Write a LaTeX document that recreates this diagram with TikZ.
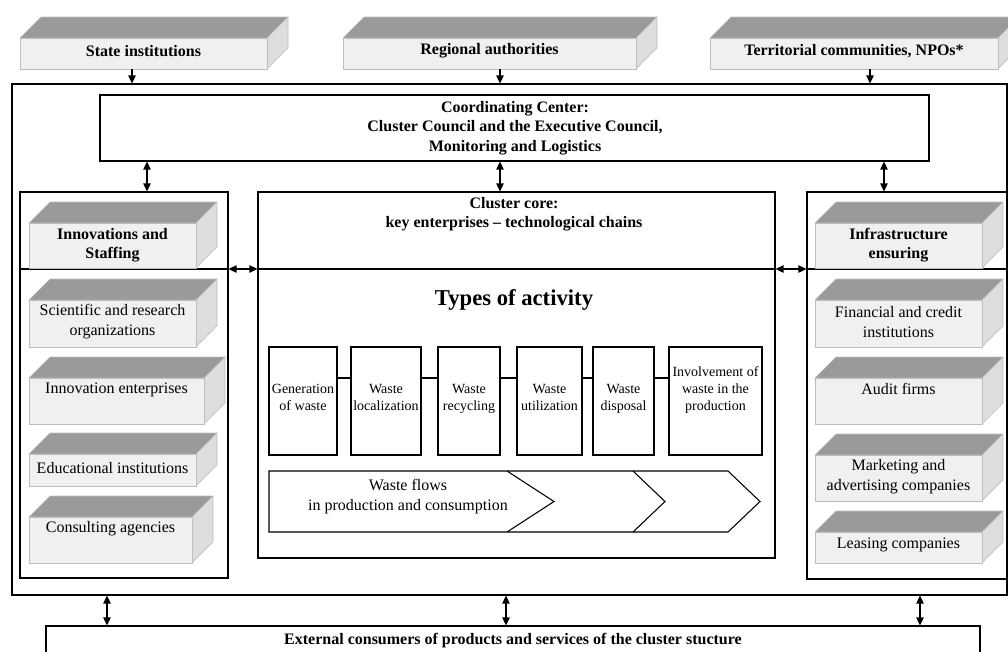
\documentclass[tikz,border=0pt]{standalone}
\usepackage{fontspec}
\setmainfont{Liberation Serif}
\usetikzlibrary{arrows.meta,calc,fit}
\definecolor{topc}{HTML}{9A9A9A}
\definecolor{frontc}{HTML}{F0F0F0}
\definecolor{sidec}{HTML}{DDDDDD}
\definecolor{edgec}{HTML}{BDBDBD}
\tikzset{
  rectbox/.style={draw=black, line width=0.8pt, inner sep=0pt},
  topface/.style={fill=topc, draw=edgec, line width=0.4pt},
  sideface/.style={fill=sidec, draw=edgec, line width=0.4pt},
  frontface/.style={fill=frontc, draw=edgec, line width=0.5pt, inner sep=0pt},
  regtext/.style={font=\fontsize{12}{15}\selectfont, align=center, inner sep=0pt},
  boldtext/.style={font=\fontsize{12}{14.6}\selectfont\bfseries, align=center, inner sep=0pt},
  acttext/.style={font=\fontsize{10.5}{12.75}\selectfont, align=center, inner sep=0pt},
  bigtext/.style={font=\fontsize{17}{20}\selectfont\bfseries, align=center, inner sep=0pt},
  arr/.style={-{Triangle[length=6pt,width=5.5pt]}, line width=1pt},
  darr/.style={{Triangle[length=6pt,width=5.5pt]}-{Triangle[length=6pt,width=5.5pt]}, line width=1pt},
  thinline/.style={line width=0.8pt},
}
% #1 name, #2 x1, #3 y1, #4 x2, #5 y2, #6 text y, #7 text style, #8 text
\newcommand{\tdbox}[8]{%
  \path[topface] (#2,#3) -- (#2+21,#3-21) -- (#4+21,#3-21) -- (#4,#3) -- cycle;
  \path[sideface] (#4,#3) -- (#4+21,#3-21) -- (#4+21,#5-21) -- (#4,#5) -- cycle;
  \node[frontface, fit={(#2,#3) (#4,#5)}] (#1) {};
  \node[#7] (#1-t) at ({(#2+#4)/2},#6) {#8};
}
\begin{document}
\begin{tikzpicture}[x=0.75pt,y=-0.75pt]
\useasboundingbox (0,0) rectangle (1008,651);
\clip (0,0) rectangle (1008,651);

% top 3D boxes
\tdbox{state}{20}{38}{267}{69}{51}{boldtext}{State institutions}
\tdbox{region}{343}{38}{636}{69}{51}{boldtext}{Regional authorities}
\tdbox{terr}{710}{38}{998}{69}{51}{boldtext}{Territorial communities, NPOs*}

% outer frame
\node[rectbox, fit={(12,84) (1007,595)}] (outer) {};

% coordinating center
\node[rectbox, fit={(100,95) (929,161)}] (cc) {};
\node[boldtext] (cct) at (515,128) {Coordinating Center:\\Cluster Council and the Executive Council,\\Monitoring and Logistics};

% columns
\node[rectbox, fit={(20,192) (228,578)}] (lcol) {};
\node[rectbox, fit={(258,192) (775,558)}] (core) {};
\node[rectbox, fit={(807,192) (1007,579)}] (rcol) {};

% horizontal divider line
\draw[thinline] (lcol.west |- 0,269) -- (lcol.east |- 0,269);
\draw[thinline] (core.west |- 0,269) -- (core.east |- 0,269);
\draw[thinline] (rcol.west |- 0,269) -- (rcol.east |- 0,269);

% arrows from top boxes
\draw[arr] (132,0 |- state.south) -- (132,0 |- outer.north);
\draw[arr] (500,0 |- region.south) -- (500,0 |- outer.north);
\draw[arr] (870,0 |- terr.south) -- (870,0 |- outer.north);

% arrows CC to columns
\draw[darr] (147,0 |- cc.south) -- (147,0 |- lcol.north);
\draw[darr] (500,0 |- cc.south) -- (500,0 |- core.north);
\draw[darr] (884,0 |- cc.south) -- (884,0 |- rcol.north);

% horizontal arrows between columns
\draw[darr] (lcol.east |- 0,269) -- (core.west |- 0,269);
\draw[darr] (core.east |- 0,269) -- (rcol.west |- 0,269);

% left column boxes
\tdbox{innov}{29}{223}{196}{268}{245}{boldtext}{Innovations and\\Staffing}
\tdbox{sci}{29}{300}{196}{347}{322}{regtext}{Scientific and research\\organizations}
\tdbox{inent}{29}{378}{204}{424}{390}{regtext}{Innovation enterprises}
\tdbox{edu}{29}{454}{196}{486}{468}{regtext}{Educational institutions}
\tdbox{cons}{29}{517}{192}{563}{529}{regtext}{Consulting agencies}

% right column boxes
\tdbox{infra}{815}{223}{982}{268}{245}{boldtext}{Infrastructure\\ensuring}
\tdbox{fin}{815}{300}{982}{347}{322}{regtext}{Financial and credit\\institutions}
\tdbox{audit}{815}{378}{982}{424}{389}{regtext}{Audit firms}
\tdbox{mark}{815}{455}{982}{501}{477}{regtext}{Marketing and\\advertising companies}
\tdbox{leas}{815}{532}{982}{563}{545}{regtext}{Leasing companies}

% core texts
\node[boldtext] (coret) at (514,214) {Cluster core:\\key enterprises -- technological chains};
\node[bigtext] (types) at (514,300) {Types of activity};

% activity boxes
\node[rectbox, fit={(269,347) (337,455)}] (a1) {};
\node[rectbox, fit={(351,347) (421,455)}] (a2) {};
\node[rectbox, fit={(438,347) (500,455)}] (a3) {};
\node[rectbox, fit={(517,347) (582,455)}] (a4) {};
\node[rectbox, fit={(593,347) (654,455)}] (a5) {};
\node[rectbox, fit={(669,347) (762,455)}] (a6) {};
\node[acttext] (a1t) at (303,399.5) {Generation\\of waste\strut};
\node[acttext] (a2t) at (386,399.5) {Waste\\localization\strut};
\node[acttext] (a3t) at (469,399.5) {Waste\\recycling\strut};
\node[acttext] (a4t) at (549.5,399.5) {Waste\\utilization\strut};
\node[acttext] (a5t) at (623.5,399.5) {Waste\\disposal\strut};
\node[acttext] (a6t) at (715.5,391.5) {Involvement of\\waste in the\\production\strut};
\draw[thinline] (a1.east |- 0,378) -- (a2.west |- 0,378);
\draw[thinline] (a2.east |- 0,378) -- (a3.west |- 0,378);
\draw[thinline] (a3.east |- 0,378) -- (a4.west |- 0,378);
\draw[thinline] (a4.east |- 0,378) -- (a5.west |- 0,378);
\draw[thinline] (a5.east |- 0,378) -- (a6.west |- 0,378);

% waste flow chevrons
\draw[thinline, line join=miter] (269,471) -- (728,471) -- (760,501.5) -- (728,532) -- (269,532) -- cycle;
\draw[thinline] (507,471) -- (554,501.5) -- (507,532);
\draw[thinline] (633,471) -- (665,501.5) -- (633,532);
\node[regtext] (flowt) at (408,497) {Waste flows\\in production and consumption};

% bottom box
\node[rectbox, fit={(46,626) (980,660)}] (ext) {};
\node[boldtext] (extt) at (513,641) {External consumers of products and services of the cluster stucture};
\draw[darr] (107,0 |- outer.south) -- (107,0 |- ext.north);
\draw[darr] (506,0 |- outer.south) -- (506,0 |- ext.north);
\draw[darr] (920,0 |- outer.south) -- (920,0 |- ext.north);
\end{tikzpicture}
\end{document}
